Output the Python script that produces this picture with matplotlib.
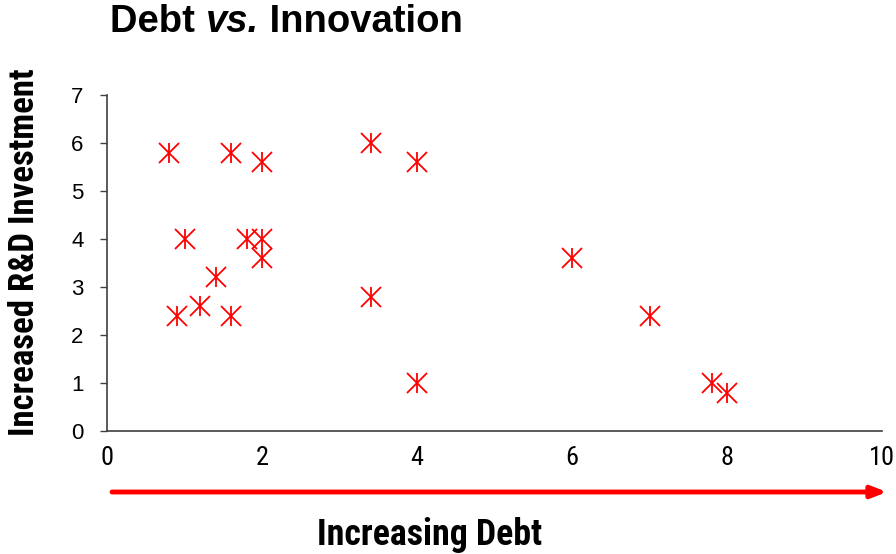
import matplotlib
matplotlib.use("Agg")
import matplotlib.pyplot as plt
from matplotlib import font_manager

# Debt level against increase in R&D investment
debt = [0.8, 1.6, 2.0, 3.4, 4.0, 1.0, 1.8, 2.0, 2.0, 1.4, 1.2, 0.9, 1.6, 3.4, 4.0, 6.0, 7.0, 7.8, 8.0]
rnd = [5.8, 5.8, 5.6, 6.0, 5.6, 4.0, 4.0, 4.0, 3.6, 3.2, 2.6, 2.4, 2.4, 2.8, 1.0, 3.6, 2.4, 1.0, 0.8]
x_ticks = [0, 2, 4, 6, 8, 10]
y_ticks = [0, 1, 2, 3, 4, 5, 6, 7]

names = {f.name for f in font_manager.fontManager.ttflist}
narrow = next((n for n in ("Roboto Condensed", "IBM Plex Sans Condensed", "Fira Sans Condensed")
               if n in names), "DejaVu Sans")
regular = "Liberation Sans"

W, H = 896, 554
fig = plt.figure(figsize=(W / 100, H / 100), dpi=100)
ax = fig.add_axes([107 / W, 1 - 431 / H, 775 / W, 336 / H])

# star marker: an x crossed by a vertical bar
for m in ("x", "|"):
    ax.plot(debt, rnd, linestyle="none", marker=m, markersize=15,
            markeredgewidth=1.3, color="#ff0000", clip_on=False)

ax.set_xlim(0, 10)
ax.set_ylim(0, 7)
ax.set_xticks(x_ticks)
ax.set_yticks(y_ticks)
ax.set_xticklabels([str(v) for v in x_ticks], fontfamily=narrow, fontsize=19)
ax.set_yticklabels([str(v) for v in y_ticks], fontfamily=regular, fontsize=16)
ax.tick_params(axis="x", length=0, pad=11)
ax.tick_params(axis="y", length=5, width=1, color="#404040", pad=12)
for s in ("top", "right"):
    ax.spines[s].set_visible(False)
for s in ("left", "bottom"):
    ax.spines[s].set_color("#404040")
    ax.spines[s].set_linewidth(1.2)

renderer = fig.canvas.get_renderer()


def fit(text, span, horizontal=True):
    """Scale a text's font so its extent covers the given pixel span."""
    bb = text.get_window_extent(renderer)
    cur = bb.width if horizontal else bb.height
    text.set_fontsize(text.get_fontsize() * span / cur)


# title with an italic "vs."
parts = [("Debt ", "normal"), ("vs.", "italic"), (" Innovation", "normal")]
size = 27.5
x = 110
for s, style in parts:
    t = fig.text(x / W, 1 - 22 / H, s, fontsize=size, fontweight="bold", fontstyle=style,
                 fontfamily=regular, va="center", ha="left")
    x += t.get_window_extent(renderer).width

ylab = fig.text(25 / W, 1 - 252 / H, "Increased R&D Investment", rotation=90,
                fontsize=20, fontweight="bold", fontfamily=narrow, va="center", ha="center")
fit(ylab, 367, horizontal=False)
xlab = fig.text(430 / W, 1 - 535 / H, "Increasing Debt", fontsize=20,
                fontweight="bold", fontfamily=narrow, va="center", ha="center")
fit(xlab, 225)

# arrow along the debt direction
ax.annotate("", xy=(887 / W, 1 - 492 / H), xytext=(112 / W, 1 - 492 / H),
            xycoords="figure fraction", textcoords="figure fraction",
            arrowprops=dict(arrowstyle="-|>,head_length=0.9,head_width=0.35",
                            color="#ff0000", lw=3.5, shrinkA=0, shrinkB=0))

fig.savefig("out.png", dpi=100)
